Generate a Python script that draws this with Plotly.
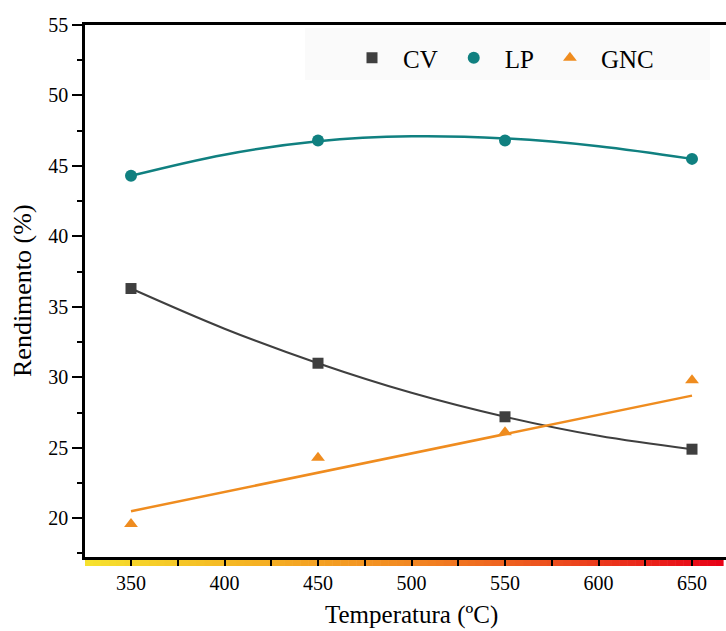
import plotly.graph_objects as go

# ---- data ----
temps = [350, 450, 550, 650]
cv = [36.3, 31.0, 27.2, 24.9]
lp = [44.3, 46.8, 46.8, 45.5]
gnc = [19.6, 24.3, 26.1, 29.8]

# fitted curves as drawn in the reference
fit_temps = [350, 400, 450, 500, 550, 600, 650]
cv_fit = [36.3, 33.45, 31.0, 28.9, 27.2, 25.85, 24.9]
lp_fit = [44.3, 45.8, 46.75, 47.1, 46.95, 46.4, 45.5]
gnc_fit_temps = [350, 650]
gnc_fit = [20.5, 28.7]

# temperature colour strip under the x axis (start, end in ºC)
strip_range = [325.4, 666.6]
strip_stops = [(0.0, (246, 226, 46)), (0.25, (245, 180, 35)), (0.5, (242, 138, 34)),
               (0.75, (236, 74, 30)), (1.0, (232, 0, 22))]

FONT = "Liberation Serif"
C_CV = "#3f3f3f"
C_LP = "#108080"
C_GNC = "#ef8c1f"

FIG_W, FIG_H = 726, 631
ML, MT = 85, 25
PW, PH = FIG_W - ML, FIG_H - MT


def px_x(px):
    return (px - ML) / PW


def px_y(py):
    return (FIG_H - py) / PH


def strip_color(f):
    for (p0, c0), (p1, c1) in zip(strip_stops[:-1], strip_stops[1:]):
        if p0 <= f <= p1:
            t = (f - p0) / (p1 - p0)
            return "rgb(%d,%d,%d)" % tuple(round(a + (b - a) * t) for a, b in zip(c0, c1))
    return "rgb(%d,%d,%d)" % strip_stops[-1][1]


fig = go.Figure()

# fit lines
fig.add_trace(go.Scatter(x=fit_temps, y=cv_fit, mode="lines", line=dict(color=C_CV, width=2, shape="spline"),
                         showlegend=False, hoverinfo="skip"))
fig.add_trace(go.Scatter(x=fit_temps, y=lp_fit, mode="lines", line=dict(color=C_LP, width=2.5, shape="spline"),
                         showlegend=False, hoverinfo="skip"))
fig.add_trace(go.Scatter(x=gnc_fit_temps, y=gnc_fit, mode="lines", line=dict(color=C_GNC, width=2.5),
                         showlegend=False, hoverinfo="skip"))

# data points
fig.add_trace(go.Scatter(x=temps, y=cv, mode="markers", name="CV",
                         marker=dict(symbol="square", size=11, color=C_CV)))
fig.add_trace(go.Scatter(x=temps, y=lp, mode="markers", name="LP",
                         marker=dict(symbol="circle", size=12, color=C_LP)))
fig.add_trace(go.Scatter(x=temps, y=gnc, mode="markers", name="GNC",
                         marker=dict(symbol="triangle-up", size=12, color=C_GNC)))

# gradient strip as thin shapes just under the x axis
n_seg = 80
seg_w = (strip_range[1] - strip_range[0]) / n_seg
shapes = []
for i in range(n_seg):
    x0 = strip_range[0] + i * seg_w
    shapes.append(dict(type="rect", xref="x", yref="paper", x0=x0, x1=x0 + seg_w + 0.3,
                       y0=px_y(566), y1=px_y(558), line=dict(width=0),
                       fillcolor=strip_color((i + 0.5) / n_seg), layer="below"))
shapes.append(dict(type="rect", xref="paper", yref="paper",
                   x0=px_x(305), x1=px_x(710), y0=px_y(80), y1=px_y(28),
                   fillcolor="rgba(0,0,0,0.02)", line=dict(width=0), layer="below"))

fig.update_layout(
    width=FIG_W, height=FIG_H,
    margin=dict(l=ML, r=0, t=MT, b=0),
    paper_bgcolor="white", plot_bgcolor="white",
    font=dict(family=FONT, size=20, color="black"),
    xaxis=dict(range=[325.4, 325.4 + PW / 1.87], tickvals=[350, 400, 450, 500, 550, 600, 650],
               showgrid=False, zeroline=False, showline=True, linecolor="black", linewidth=2.5,
               mirror=True, ticks="outside", ticklen=6, tickwidth=1.5, tickcolor="black",
               minor=dict(dtick=25, tick0=325, ticks="outside", ticklen=6, tickwidth=1.5, tickcolor="black"),
               tickfont=dict(family=FONT, size=20), ticklabelstandoff=0),
    yaxis=dict(domain=[px_y(557), 1], range=[17.25, 55], tickvals=[20, 25, 30, 35, 40, 45, 50, 55],
               showgrid=False, zeroline=False, showline=True, linecolor="black", linewidth=2.5,
               ticks="outside", ticklen=10, tickwidth=1.5, tickcolor="black",
               minor=dict(dtick=2.5, tick0=20, ticks="outside", ticklen=5, tickwidth=1.5, tickcolor="black"),
               tickfont=dict(family=FONT, size=20)),
    legend=dict(orientation="h", x=px_x(341), y=px_y(58), xanchor="left", yanchor="middle",
                bgcolor="rgba(0,0,0,0)", borderwidth=0,
                font=dict(family=FONT, size=25, color="black"),
                itemwidth=52),
    shapes=shapes,
    annotations=[
        dict(text="Rendimento (%)", xref="paper", yref="paper", x=px_x(22), y=px_y(291),
             textangle=-90, showarrow=False, xanchor="center", yanchor="middle",
             font=dict(family=FONT, size=26)),
        dict(text="Temperatura (ºC)", xref="paper", yref="paper", x=px_x(411), y=0.0,
             showarrow=False, xanchor="center", yanchor="bottom",
             font=dict(family=FONT, size=25)),
    ],
)

fig.write_html("out.html", config={"displayModeBar": False},
               post_script="document.body.style.margin='0';document.body.style.overflow='hidden';"
                           "document.documentElement.style.overflow='hidden';")
